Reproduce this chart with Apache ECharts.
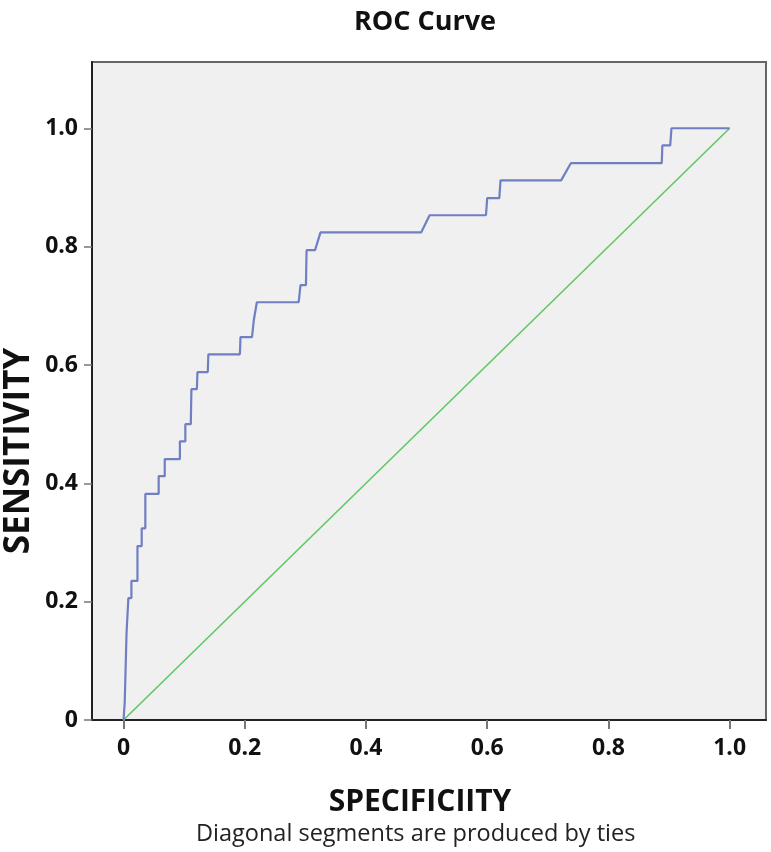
<!DOCTYPE html>
<html>
<head>
<meta charset="utf-8">
<script src="https://cdn.jsdelivr.net/npm/echarts@6/dist/echarts.min.js"></script>
<style>html,body{margin:0;padding:0;background:#fff}#c{width:771px;height:852px}</style>
</head>
<body>
<div id="c"></div>
<script>
// 1 - specificity (x) and sensitivity (y) vertices of the ROC curve
var rocX = [0, 0.002, 0.005, 0.005, 0.008, 0.008, 0.013, 0.013, 0.023, 0.023, 0.03, 0.03, 0.036, 0.036, 0.058, 0.058, 0.068, 0.068, 0.093, 0.093, 0.102, 0.102, 0.111, 0.112, 0.121, 0.122, 0.139, 0.14, 0.192, 0.193, 0.212, 0.215, 0.22, 0.289, 0.292, 0.301, 0.302, 0.316, 0.325, 0.491, 0.505, 0.598, 0.6, 0.62, 0.622, 0.722, 0.738, 0.888, 0.889, 0.902, 0.904, 1.0];
var rocY = [0, 0.03, 0.03, 0.147, 0.147, 0.206, 0.206, 0.235, 0.235, 0.294, 0.294, 0.324, 0.324, 0.382, 0.382, 0.412, 0.412, 0.441, 0.441, 0.471, 0.471, 0.5, 0.5, 0.559, 0.559, 0.588, 0.588, 0.618, 0.618, 0.647, 0.647, 0.676, 0.706, 0.706, 0.735, 0.735, 0.794, 0.794, 0.824, 0.824, 0.853, 0.853, 0.882, 0.882, 0.912, 0.912, 0.941, 0.941, 0.971, 0.971, 1.0, 1.0];
var refX = [0, 1];
var refY = [0, 1];
var tickValues = [0, 0.2, 0.4, 0.6, 0.8, 1.0];
var tickLabels = ['0', '0.2', '0.4', '0.6', '0.8', '1.0'];

var labelFont = '"Open Sans", "Noto Sans", sans-serif';
function fmt(v) {
  for (var i = 0; i < tickValues.length; i++) {
    if (Math.abs(v - tickValues[i]) < 1e-6) return tickLabels[i];
  }
  return '';
}
var chart = echarts.init(document.getElementById('c'), null, {renderer: 'canvas'});
chart.setOption({
  animation: false,
  title: {
    text: 'ROC Curve', left: 420, textAlign: 'center', top: 4,
    textStyle: {fontFamily: labelFont, fontWeight: 'bold', fontSize: 27, color: '#111'}
  },
  grid: {
    left: 92, right: 5, top: 62, bottom: 132, show: true, containLabel: false, outerBoundsMode: 'none',
    backgroundColor: '#f0f0f0', borderColor: '#666', borderWidth: 2
  },
  xAxis: {
    type: 'value', min: -0.052, max: 1.06,
    name: 'SPECIFICIITY', nameLocation: 'middle', nameGap: 67,
    nameTextStyle: {fontFamily: labelFont, fontWeight: 'bold', fontSize: 30, color: '#111', padding: [0, 18, 0, 0]},
    splitLine: {show: false},
    axisLine: {show: true, onZero: false, lineStyle: {color: '#222', width: 2}},
    axisTick: {show: true, customValues: tickValues, length: 9, lineStyle: {color: '#777', width: 2}},
    axisLabel: {customValues: tickValues, formatter: fmt, margin: 17, fontFamily: labelFont, fontWeight: 'bold', fontSize: 23, color: '#111'}
  },
  yAxis: {
    type: 'value', min: 0, max: 1.112,
    splitLine: {show: false},
    axisLine: {show: true, onZero: false, lineStyle: {color: '#222', width: 2}},
    axisTick: {show: true, customValues: tickValues, length: 8, lineStyle: {color: '#777', width: 1.5}},
    axisLabel: {customValues: tickValues, formatter: fmt, margin: 14, fontFamily: labelFont, fontWeight: 'bold', fontSize: 23, color: '#111'}
  },
  graphic: [{
    type: 'text', x: 19, y: 451, rotation: Math.PI / 2,
    style: {text: 'SENSITIVITY', font: 'bold 35px ' + labelFont, fill: '#111', align: 'center', verticalAlign: 'middle'}
  }, {
    type: 'text', left: 196, top: 822,
    style: {text: 'Diagonal segments are produced by ties', font: '23.5px ' + labelFont, fill: '#222'}
  }],
  series: [{
    type: 'line', data: rocX.map(function (x, i) { return [x, rocY[i]]; }),
    showSymbol: false, symbol: 'none', lineStyle: {color: '#6f7fc2', width: 2.2}, z: 3
  }, {
    type: 'line', data: refX.map(function (x, i) { return [x, refY[i]]; }),
    showSymbol: false, symbol: 'none', lineStyle: {color: '#5fc863', width: 1.6}, z: 2
  }]
});
</script>
</body>
</html>
